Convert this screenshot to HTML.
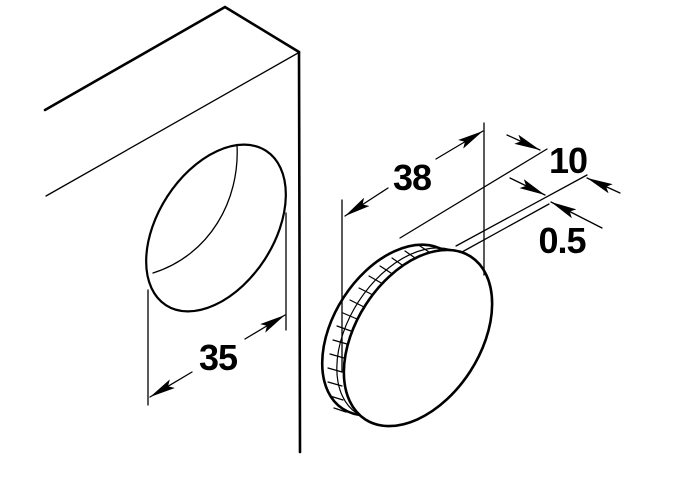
<!DOCTYPE html>
<html><head><style>body{margin:0;background:#fff}svg{display:block}</style></head><body>
<svg width="684" height="480" viewBox="0 0 684 480" xmlns="http://www.w3.org/2000/svg">
<defs>
<marker id="a" viewBox="0 0 26 10" refX="26" refY="5" markerWidth="26" markerHeight="10" markerUnits="userSpaceOnUse" orient="auto"><path d="M0,0 L26,5 L0,10 L5,5 z" fill="#000"/></marker>
</defs>
<g fill="none" stroke="#000" stroke-linecap="round">
<!-- panel -->
<polyline points="45,110 225,7 299,52" stroke-width="2.6"/>
<line x1="299" y1="52" x2="300" y2="452" stroke-width="2.6"/>
<line x1="46" y1="196" x2="298" y2="53" stroke-width="1.3"/>
<!-- hole -->
<ellipse cx="216" cy="228" rx="58" ry="92" transform="rotate(33 216 228)" stroke-width="2.2"/>
<path d="M237,145 C240,200 210,255 153,273" stroke-width="1.3"/>
<!-- dim 35 -->
<line x1="148" y1="290" x2="148" y2="405" stroke-width="1.3"/>
<line x1="286" y1="213" x2="286" y2="330" stroke-width="1.3"/>
<line x1="192" y1="372" x2="150" y2="397" stroke-width="1.3" marker-end="url(#a)"/>
<line x1="245" y1="339" x2="285" y2="315" stroke-width="1.3" marker-end="url(#a)"/>
<!-- cap rim -->
<ellipse cx="394" cy="330" rx="60" ry="94" transform="rotate(33 394 330)" stroke-width="2.6"/>
<ellipse cx="409" cy="334" rx="60" ry="95" transform="rotate(33 409 334)" stroke-width="1.2"/>
<g stroke-width="1.2">
<line x1="420" y1="246" x2="432" y2="254"/><line x1="405" y1="251" x2="418" y2="260"/>
<line x1="392" y1="258" x2="405" y2="267"/><line x1="380" y1="266" x2="394" y2="275"/>
<line x1="369" y1="276" x2="383" y2="284"/><line x1="359" y1="288" x2="373" y2="295"/>
<line x1="350" y1="300" x2="364" y2="307"/><line x1="343" y1="313" x2="357" y2="319"/>
<line x1="337" y1="326" x2="351" y2="331"/><line x1="333" y1="340" x2="347" y2="344"/>
<line x1="330" y1="354" x2="344" y2="358"/><line x1="328" y1="368" x2="342" y2="372"/>
<line x1="328" y1="382" x2="342" y2="386"/><line x1="330" y1="396" x2="343" y2="400"/>
<line x1="334" y1="408" x2="346" y2="412"/>
</g>
<!-- front face -->
<ellipse cx="418" cy="338" rx="62" ry="97" transform="rotate(33 418 338)" fill="#fff" stroke-width="2.6"/>
<!-- dim 38 -->
<line x1="342" y1="200" x2="342" y2="372" stroke-width="1.3"/>
<line x1="484" y1="123" x2="484" y2="275" stroke-width="1.3"/>
<line x1="388" y1="188" x2="345" y2="216" stroke-width="1.3" marker-end="url(#a)"/>
<line x1="436" y1="159" x2="483" y2="131" stroke-width="1.3" marker-end="url(#a)"/>
<!-- extension lines 10 / 0.5 -->
<line x1="400" y1="238" x2="547" y2="149" stroke-width="1.3"/>
<line x1="456" y1="246" x2="587" y2="175" stroke-width="1.3"/>
<line x1="462" y1="252" x2="549" y2="204" stroke-width="1.3"/>
<line x1="507" y1="135" x2="540" y2="150" stroke-width="1.3" marker-end="url(#a)"/>
<line x1="620" y1="193" x2="587" y2="178" stroke-width="1.3" marker-end="url(#a)"/>
<line x1="510" y1="178" x2="545" y2="195" stroke-width="1.3" marker-end="url(#a)"/>
<line x1="602" y1="228" x2="551" y2="202" stroke-width="1.3" marker-end="url(#a)"/>
</g>
<g font-family="Liberation Sans, sans-serif" font-weight="bold" font-size="36" fill="#000" text-anchor="middle" letter-spacing="-1">
<text x="218" y="370">35</text>
<text x="412" y="190">38</text>
<text x="568" y="173">10</text>
<text x="562" y="253">0.5</text>
</g>
</svg>
</body></html>
